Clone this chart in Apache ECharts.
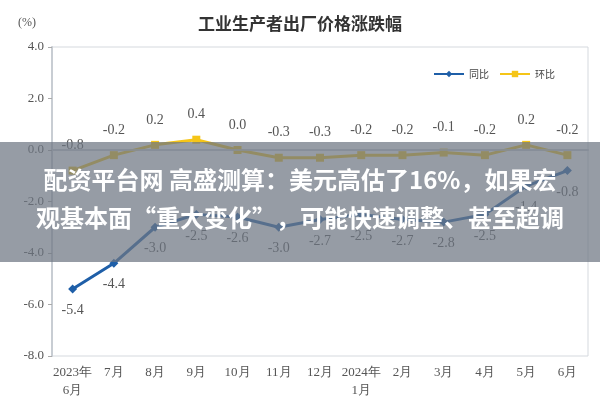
<!DOCTYPE html>
<html><head><meta charset="utf-8">
<script src="https://cdn.jsdelivr.net/npm/echarts@6/dist/echarts.min.js"></script>
<style>html,body{margin:0;padding:0;background:#fff}#main{width:600px;height:400px}</style>
</head><body><div id="main"></div>
<script>
var months = ['2023年\n6月','7月','8月','9月','10月','11月','12月','2024年\n1月','2月','3月','4月','5月','6月'];
var yoy = [-5.4, -4.4, -3.0, -2.5, -2.6, -3.0, -2.7, -2.5, -2.7, -2.8, -2.5, -1.4, -0.8];
var mom = [-0.8, -0.2, 0.2, 0.4, 0.0, -0.3, -0.3, -0.2, -0.2, -0.1, -0.2, 0.2, -0.2];
var serif = 'Liberation Serif';
var myChart = echarts.init(document.getElementById('main'));
var option = {
    backgroundColor: '#fff',
    animation: false,
    title: {
        text: '工业生产者出厂价格涨跌幅',
        left: 'center', top: 10,
        textStyle: {fontSize: 17, fontWeight: 'bold', color: '#333', fontFamily: 'Noto Sans CJK SC'}
    },
    legend: {
        right: 40, top: 64, itemWidth: 30, itemHeight: 8, itemGap: 10,
        textStyle: {fontSize: 10, color: '#444', fontFamily: 'Noto Sans CJK SC'},
        data: ['同比', '环比']
    },
    grid: {left: 52, right: 12, top: 47, bottom: 43, show: true, borderColor: '#d5d9de', borderWidth: 1},
    xAxis: {
        type: 'category', data: months, boundaryGap: true,
        axisLine: {lineStyle: {color: '#c8cdd3', width: 2}},
        axisTick: {show: false},
        axisLabel: {color: '#555', fontSize: 13, fontFamily: serif, interval: 0, lineHeight: 18}
    },
    yAxis: {
        type: 'value', min: -8, max: 4, interval: 2,
        name: '(%)', nameLocation: 'end', nameGap: 18,
        nameTextStyle: {color: '#555', fontSize: 12, fontFamily: serif, padding: [0, 50, 0, 0]},
        axisLine: {show: true, lineStyle: {color: '#c8cdd3', width: 2}},
        axisTick: {show: true, length: 4, lineStyle: {color: '#aaa'}},
        splitLine: {show: false},
        axisLabel: {color: '#555', fontSize: 13, fontFamily: serif, formatter: function (v) { return v.toFixed(1); }}
    },
    series: [{
        name: '同比', type: 'line', data: yoy,
        symbol: 'diamond', symbolSize: 9,
        itemStyle: {color: '#1f5fa8'}, lineStyle: {color: '#1f5fa8', width: 3},
        label: {show: true, position: 'bottom', distance: 10, color: '#555', fontSize: 14, fontFamily: serif,
                formatter: function (p) { return p.value.toFixed(1); }},
        markLine: {silent: true, symbol: 'none', label: {show: false},
                   lineStyle: {color: '#c8cdd3', type: 'solid', width: 1.5}, data: [{yAxis: 0}]}
    }, {
        name: '环比', type: 'line', data: mom,
        symbol: 'rect', symbolSize: 8,
        itemStyle: {color: '#f5c518'}, lineStyle: {color: '#f5c518', width: 3},
        label: {show: true, position: 'top', distance: 14, color: '#555', fontSize: 14, fontFamily: serif,
                formatter: function (p) { return p.value.toFixed(1); }}
    }],
    graphic: [{
        type: 'rect', left: 0, top: 142, shape: {width: 600, height: 120},
        style: {fill: 'rgba(110,118,130,0.72)'}, z: 100
    }, {
        type: 'text', left: 'center', top: 168, z: 101,
        style: {text: '配资平台网 高盛测算：美元高估了16%，如果宏', fill: '#fff', font: 'bold 24px "Noto Sans CJK SC"'}
    }, {
        type: 'text', left: 'center', top: 206, z: 101,
        style: {text: '观基本面“重大变化”，可能快速调整、甚至超调', fill: '#fff', font: 'bold 24px "Noto Sans CJK SC"'}
    }]
};
myChart.setOption(option);
</script></body></html>
